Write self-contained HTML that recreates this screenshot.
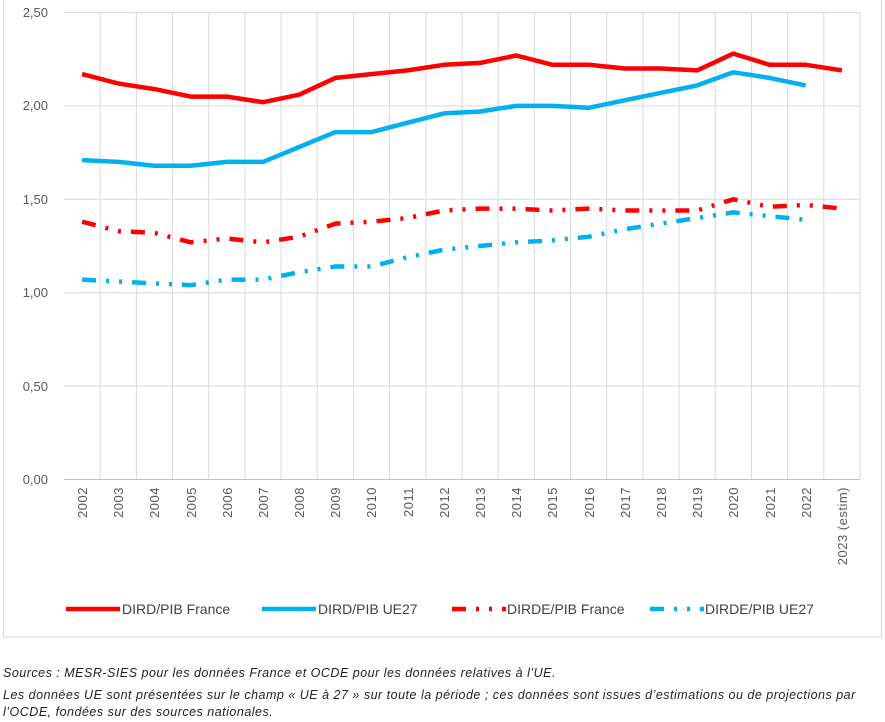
<!DOCTYPE html>
<html><head><meta charset="utf-8"><style>
body{margin:0;background:#fff;width:885px;height:722px;overflow:hidden;font-family:"Liberation Sans",sans-serif}
.note{position:absolute;left:3px;font-family:"Liberation Sans",sans-serif;font-style:italic;font-size:12.5px;color:#222;letter-spacing:0.5px;white-space:nowrap}
</style></head><body>
<svg id="s" width="885" height="722" style="position:absolute;left:0;top:0">
<rect x="3.5" y="-2" width="878" height="639" fill="none" stroke="#d9d9d9" stroke-width="1"/>
<g stroke="#d9d9d9" stroke-width="1">
<line x1="64" y1="12.5" x2="860" y2="12.5"/>
<line x1="64" y1="105.9" x2="860" y2="105.9"/>
<line x1="64" y1="199.3" x2="860" y2="199.3"/>
<line x1="64" y1="292.7" x2="860" y2="292.7"/>
<line x1="64" y1="386.1" x2="860" y2="386.1"/>
</g>
<g id="vg" stroke="#d9d9d9" stroke-width="1"></g>
<line x1="64" y1="479.5" x2="860" y2="479.5" stroke="#bfbfbf" stroke-width="1"/>
<g font-size="13" fill="#595959" text-anchor="end">
<text x="48" y="17">2,50</text>
<text x="48" y="110">2,00</text>
<text x="48" y="204">1,50</text>
<text x="48" y="297">1,00</text>
<text x="48" y="391">0,50</text>
<text x="48" y="484">0,00</text>
</g>
<g font-size="13" fill="#595959" text-anchor="end" letter-spacing="0.5">
<text transform="translate(87,487) rotate(-90)">2002</text>
<text transform="translate(123,487) rotate(-90)">2003</text>
<text transform="translate(159,487) rotate(-90)">2004</text>
<text transform="translate(196,487) rotate(-90)">2005</text>
<text transform="translate(232,487) rotate(-90)">2006</text>
<text transform="translate(268,487) rotate(-90)">2007</text>
<text transform="translate(304,487) rotate(-90)">2008</text>
<text transform="translate(340,487) rotate(-90)">2009</text>
<text transform="translate(376,487) rotate(-90)">2010</text>
<text transform="translate(413,487) rotate(-90)">2011</text>
<text transform="translate(449,487) rotate(-90)">2012</text>
<text transform="translate(485,487) rotate(-90)">2013</text>
<text transform="translate(521,487) rotate(-90)">2014</text>
<text transform="translate(557,487) rotate(-90)">2015</text>
<text transform="translate(594,487) rotate(-90)">2016</text>
<text transform="translate(630,487) rotate(-90)">2017</text>
<text transform="translate(666,487) rotate(-90)">2018</text>
<text transform="translate(702,487) rotate(-90)">2019</text>
<text transform="translate(738,487) rotate(-90)">2020</text>
<text transform="translate(775,487) rotate(-90)">2021</text>
<text transform="translate(811,487) rotate(-90)">2022</text>
<text transform="translate(847,487) rotate(-90)">2023 (estim)</text>
</g>
<g id="lines" fill="none" stroke-width="4.5" stroke-linejoin="round"></g>
<g stroke-width="4.5">
<line x1="66" y1="609" x2="120" y2="609" stroke="#ff0000"/>
<line x1="262" y1="609" x2="316" y2="609" stroke="#00b0f0"/>
<line x1="452" y1="609" x2="506" y2="609" stroke="#ff0000" stroke-dasharray="14 10 3 10 3 10"/>
<line x1="650" y1="609" x2="704" y2="609" stroke="#00b0f0" stroke-dasharray="14 10 3 10 3 10"/>
</g>
<g font-size="14" fill="#404040">
<text x="122" y="614">DIRD/PIB  France</text>
<text x="318" y="614">DIRD/PIB UE27</text>
<text x="507" y="614">DIRDE/PIB France</text>
<text x="705" y="614">DIRDE/PIB UE27</text>
</g>
</svg>
<div class="note" style="top:666px">Sources : MESR-SIES pour les données France et OCDE pour les données relatives à l’UE.</div>
<div class="note" style="top:688px">Les données UE  sont présentées sur le champ « UE à 27 »  sur toute la période ; ces données sont issues d’estimations ou de projections par</div>
<div class="note" style="top:705px">l’OCDE, fondées sur des sources nationales.</div>
<script>
var ns="http://www.w3.org/2000/svg";
var vg=document.getElementById('vg');
for(var k=1;k<=22;k++){var l=document.createElementNS(ns,'line');var x=64+36.18*k;l.setAttribute('x1',x);l.setAttribute('x2',x);l.setAttribute('y1',12.5);l.setAttribute('y2',479);vg.appendChild(l);}
var S=[
["#ff0000","",[2.17,2.12,2.09,2.05,2.05,2.02,2.06,2.15,2.17,2.19,2.22,2.23,2.27,2.22,2.22,2.20,2.20,2.19,2.28,2.22,2.22,2.19]],
["#00b0f0","",[1.71,1.70,1.68,1.68,1.70,1.70,1.78,1.86,1.86,1.91,1.96,1.97,2.00,2.00,1.99,2.03,2.07,2.11,2.18,2.15,2.11]],
["#ff0000","14 10 3 10 3 10",[1.38,1.33,1.32,1.27,1.29,1.27,1.30,1.37,1.38,1.40,1.44,1.45,1.45,1.44,1.45,1.44,1.44,1.44,1.50,1.46,1.47,1.45]],
["#00b0f0","14 10 3 10 3 10",[1.07,1.06,1.05,1.04,1.07,1.07,1.11,1.14,1.14,1.19,1.23,1.25,1.27,1.28,1.30,1.34,1.37,1.40,1.43,1.41,1.39]]];
var g=document.getElementById('lines');
S.forEach(function(s){var p=s[2].map(function(v,i){return (82.1+36.18*i).toFixed(1)+','+(479.5-v*186.8).toFixed(1)}).join(' ');
var e=document.createElementNS(ns,'polyline');e.setAttribute('points',p);e.setAttribute('stroke',s[0]);if(s[1])e.setAttribute('stroke-dasharray',s[1]);g.appendChild(e);});
</script>
</body></html>
